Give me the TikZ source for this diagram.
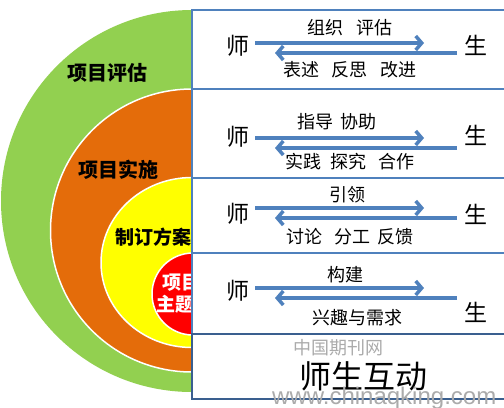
\documentclass[tikz,border=0pt]{standalone}
\usepackage{fontspec}
\setmainfont{Noto Sans CJK SC}
\newfontfamily\latinwm{Liberation Sans}
\usetikzlibrary{arrows.meta}
\definecolor{cgreen}{HTML}{92D050}
\definecolor{corange}{HTML}{E46C0A}
\definecolor{cyellow}{HTML}{FFFF00}
\definecolor{cred}{HTML}{FF0000}
\definecolor{lineblue}{HTML}{4F81BD}
\definecolor{darkblue}{HTML}{3A5F8F}
\definecolor{wmgray}{HTML}{ABABAB}
\newcommand{\fs}[1]{\fontsize{#1bp}{#1bp}\selectfont}
\tikzset{
  ring/.style={draw=white, line width=1.5bp},
  rowbox/.style={draw=lineblue, line width=2bp, fill=white},
  lastbox/.style={draw=darkblue, line width=2bp, fill=white},
  person/.style={font=\fs{23}, inner sep=0pt},
  lbl/.style={font=\fs{18}, inner sep=0pt},
  ringlbl/.style={font=\fs{20}\bfseries, inner sep=0pt},
  arr/.style={draw=lineblue, line width=3.5bp, -{Straight Barb[length=6bp,width=14bp]}},
}
\begin{document}
\begin{tikzpicture}[x=1bp,y=-1bp]
\useasboundingbox (0,0) rectangle (504,407);
\clip (0,0) rectangle (504,407);
% rings
\fill[cgreen] (192,201) circle (191);
\draw[ring, fill=corange] (192,230.5) circle (141.5);
\draw[ring, fill=cyellow] (192,262.5) ellipse (91 and 85);
\draw[ring, fill=cred] (193,294) circle (41);
\node[ringlbl] (l1) at (107,73) {项目评估};
\node[ringlbl] (l2) at (118,170) {项目实施};
\node[ringlbl, font=\fs{19}\bfseries] (l3) at (153,237) {制订方案};
\node[ringlbl, font=\fs{19}\bfseries, text=white, anchor=west] (l4a) at (162,283) {项目};
\node[ringlbl, font=\fs{19}\bfseries, text=white, anchor=west] (l4b) at (156,304) {主题};
% boxes
\path[rowbox] (192,10) rectangle (508,89);
\path[rowbox] (192,89) rectangle (508,178);
\path[rowbox] (192,178) rectangle (508,253);
\path[rowbox] (192,253) rectangle (508,334);
\path[lastbox] (192,334) rectangle (508,399);
% row 1
\node[person] (t1) at (238,46) {师};
\node[person] (s1) at (476,45) {生};
\coordinate (r1a) at (255,43); \coordinate (r1b) at (424,43);
\coordinate (l1a) at (457,53); \coordinate (l1b) at (275,53);
\draw[arr] (r1a) -- (r1b);
\draw[arr] (l1a) -- (l1b);
\node[lbl] (u1) at (350,28) {组织\hspace{0.7em}评估};
\node[lbl] (d1) at (350,70) {表述\hspace{0.7em}反思\hspace{0.7em}改进};
% row 2
\node[person] (t2) at (238,137) {师};
\node[person] (s2) at (476,135) {生};
\coordinate (r2a) at (255,138); \coordinate (r2b) at (424,138);
\coordinate (l2a) at (457,148); \coordinate (l2b) at (275,148);
\draw[arr] (r2a) -- (r2b);
\draw[arr] (l2a) -- (l2b);
\node[lbl] (u2) at (337,122) {指导\hspace{0.4em}协助};
\node[lbl] (d2) at (350,162) {实践\hspace{0.5em}探究\hspace{0.7em}合作};
% row 3
\node[person] (t3) at (238,214) {师};
\node[person] (s3) at (476,214) {生};
\coordinate (r3a) at (255,208); \coordinate (r3b) at (424,208);
\coordinate (l3a) at (457,218); \coordinate (l3b) at (275,218);
\draw[arr] (r3a) -- (r3b);
\draw[arr] (l3a) -- (l3b);
\node[lbl] (u3) at (347,195) {引领};
\node[lbl] (d3) at (350,237) {讨论\hspace{0.7em}分工\hspace{0.4em}反馈};
% row 4
\node[person] (t4) at (238,291) {师};
\node[person] (s4) at (476,312) {生};
\coordinate (r4a) at (255,288); \coordinate (r4b) at (424,288);
\coordinate (l4a) at (457,298); \coordinate (l4b) at (275,298);
\draw[arr] (r4a) -- (r4b);
\draw[arr] (l4a) -- (l4b);
\node[lbl] (u4) at (345,275) {构建};
\node[lbl] (d4) at (357,318) {兴趣与需求};
% row 5
\node[lbl, text=wmgray, font=\fs{18}] (wm1) at (338,348) {中国期刊网};
\node[inner sep=0pt, font=\fs{32}] (title) at (363,376) {师生互动};
\node[inner sep=0pt, anchor=west, text=wmgray, font=\latinwm\fs{24}] (wm2) at (272,398) {www.chinaqking.com};
\end{tikzpicture}
\end{document}
